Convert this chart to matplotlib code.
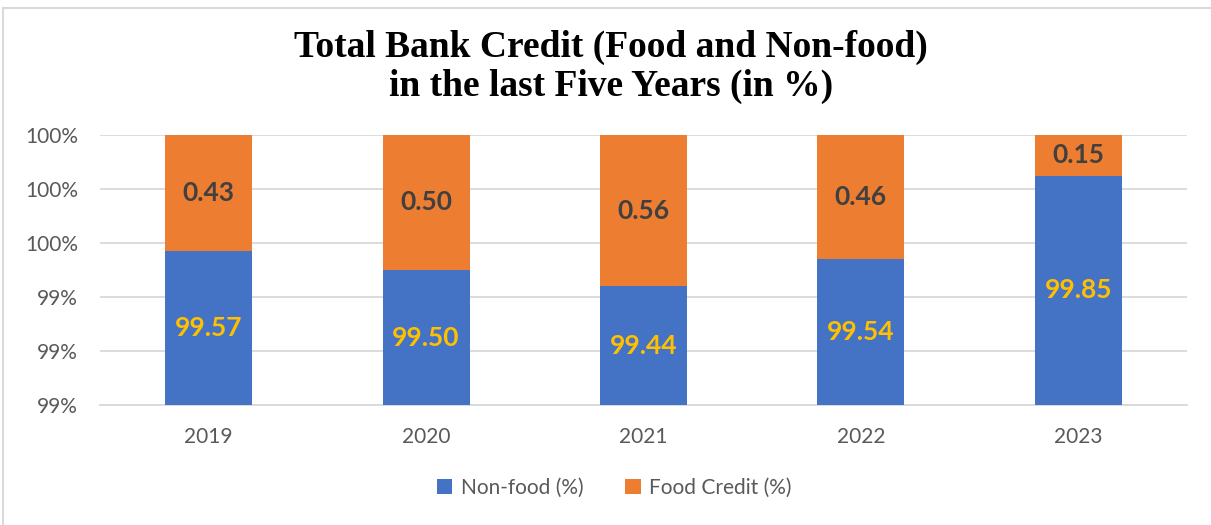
import matplotlib.pyplot as plt
from matplotlib.patches import Rectangle
from matplotlib.ticker import FixedLocator, FuncFormatter

# data
years = ["2019", "2020", "2021", "2022", "2023"]
non_food = [99.57, 99.50, 99.44, 99.54, 99.85]
food_credit = [0.43, 0.50, 0.56, 0.46, 0.15]
y_ticks = [99.0, 99.2, 99.4, 99.6, 99.8, 100.0]

BLUE = "#4472C4"
ORANGE = "#ED7D31"
GRID = "#D9D9D9"
TICK = "#595959"

W, H = 1211, 525
plt.rcParams["font.family"] = "Lato"
fig = plt.figure(figsize=(W / 100, H / 100), dpi=100)

# chart frame (light grey border like the office chart)
fig.patches.append(Rectangle((3 / W, -0.05), 1.1, 1 - 8 / H + 0.05,
                             transform=fig.transFigure, fill=False,
                             edgecolor=GRID, lw=1.5))

ax = fig.add_axes([100 / W, 1 - 405 / H, (1187 - 100) / W, (405 - 135) / H])

x = range(len(years))
ax.bar(x, non_food, width=0.4, color=BLUE, label="Non-food (%)", zorder=3)
ax.bar(x, food_credit, bottom=non_food, width=0.4, color=ORANGE,
       label="Food Credit (%)", zorder=3)

ax.set_ylim(99.0, 100.0)
ax.set_xlim(-0.5, len(years) - 0.5)
ax.yaxis.set_major_locator(FixedLocator(y_ticks))
ax.yaxis.set_major_formatter(FuncFormatter(lambda v, p: f"{v:.0f}%"))
ax.set_xticks(list(x))
ax.set_xticklabels(years)
ax.tick_params(axis="both", length=0, labelsize=15, labelcolor=TICK)
ax.tick_params(axis="y", pad=16)
ax.tick_params(axis="x", pad=16)
ax.grid(axis="y", color=GRID, lw=1.3, zorder=0)
for s in ["top", "right", "left"]:
    ax.spines[s].set_visible(False)
ax.spines["bottom"].set_color(GRID)
ax.spines["bottom"].set_linewidth(1.3)

# data labels, centred in the visible part of each segment
for i in x:
    nf_mid = (99.0 + non_food[i]) / 2
    ax.text(i, nf_mid, f"{non_food[i]:.2f}", ha="center", va="center",
            fontsize=19, fontweight="bold", color="#FFC000", zorder=4)
    fc_mid = non_food[i] + min(food_credit[i], 100.0 - non_food[i]) / 2
    ax.text(i, fc_mid, f"{food_credit[i]:.2f}", ha="center", va="center",
            fontsize=19, fontweight="bold", color="#404040", zorder=4)

fig.text(611 / W, 1 - 67 / H, "Total Bank Credit (Food and Non-food)\nin the last Five Years (in %)",
         ha="center", va="center", fontsize=27, fontweight="bold",
         family="Liberation Serif", linespacing=1.12, color="black")

leg = fig.legend(loc="center", bbox_to_anchor=(614 / W, 1 - 488 / H), ncol=2,
                 frameon=False, prop={"size": 15},
                 handlelength=0.75, handleheight=0.75, handletextpad=0.4,
                 columnspacing=2.0)
for t in leg.get_texts():
    t.set_color(TICK)

fig.savefig("out.png", dpi=100, facecolor="white")
